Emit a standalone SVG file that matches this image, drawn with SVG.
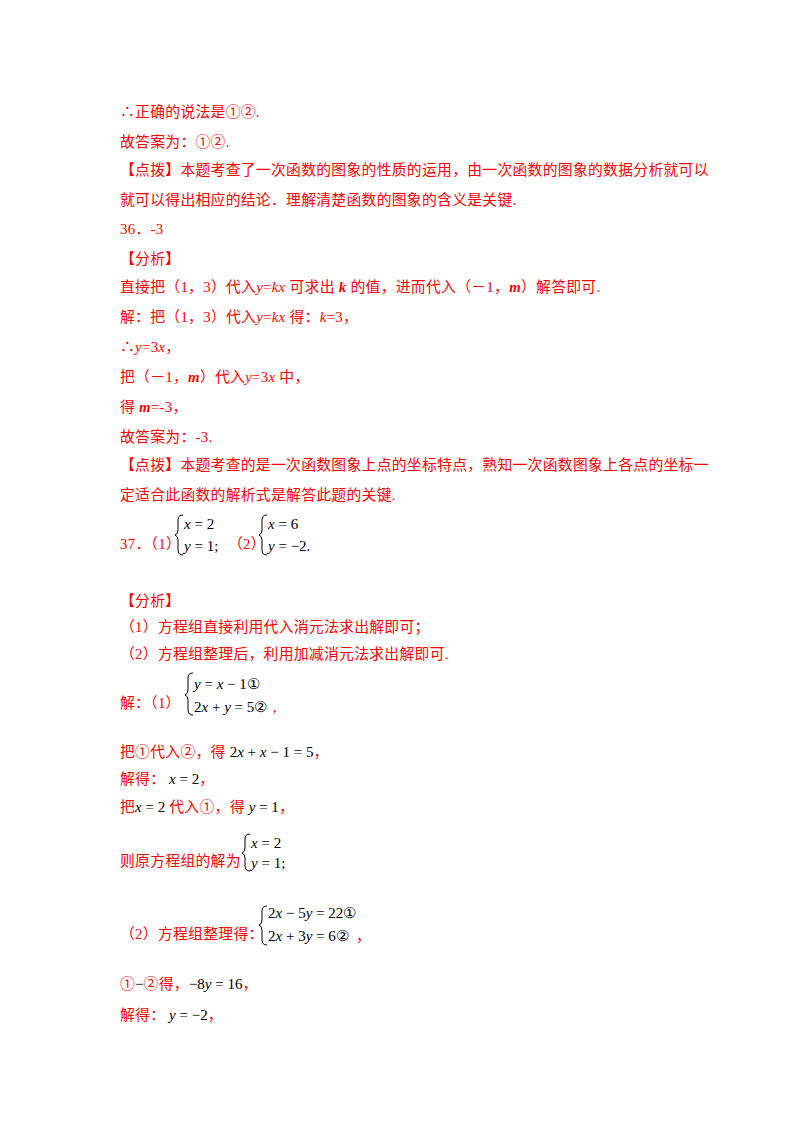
<svg xmlns="http://www.w3.org/2000/svg" width="800" height="1132" viewBox="0 0 800 1132">
<style>
.r{fill:#ff0000;font-family:"Liberation Serif","Noto Sans CJK SC",serif;font-size:14.8px;letter-spacing:0.3px}
.m{fill:#000;font-family:"Liberation Serif",serif;font-size:15px;letter-spacing:0}
.i{font-style:italic}
.b{fill:none;stroke:#000;stroke-width:1}
</style>
<rect width="800" height="1132" fill="#fff"/>
<g id="text">
<text class="r" x="120" y="117">∴正确的说法是①②.</text>
<text class="r" x="120" y="147">故答案为：①②.</text>
<text class="r" x="120" y="175">【点拨】本题考查了一次函数的图象的性质的运用，由一次函数的图象的数据分析就可以</text>
<text class="r" x="120" y="205">就可以得出相应的结论．理解清楚函数的图象的含义是关键.</text>
<text class="r" x="120" y="234">36．-3</text>
<text class="r" x="120" y="264">【分析】</text>
<text class="r" x="120" y="292">直接把（1，3）代入<tspan class="i">y</tspan>=<tspan class="i">kx</tspan> 可求出 <tspan class="i" font-weight="bold">k</tspan> 的值，进而代入（－1，<tspan class="i" font-weight="bold">m</tspan>）解答即可.</text>
<text class="r" x="120" y="322">解：把（1，3）代入<tspan class="i">y</tspan>=<tspan class="i">kx</tspan> 得：<tspan class="i">k</tspan>=3，</text>
<text class="r" x="120" y="352">∴<tspan class="i">y</tspan>=3<tspan class="i">x</tspan>，</text>
<text class="r" x="120" y="382">把（－1，<tspan class="i" font-weight="bold">m</tspan>）代入<tspan class="i">y</tspan>=3<tspan class="i">x</tspan> 中，</text>
<text class="r" x="120" y="412">得 <tspan class="i" font-weight="bold">m</tspan>=-3，</text>
<text class="r" x="120" y="442">故答案为：-3.</text>
<text class="r" x="120" y="470">【点拨】本题考查的是一次函数图象上点的坐标特点，熟知一次函数图象上各点的坐标一</text>
<text class="r" x="120" y="500">定适合此函数的解析式是解答此题的关键.</text>
<text class="r" x="120" y="549">37．（1）</text>
<text class="m" x="184" y="529"><tspan class="i">x</tspan> = 2</text>
<text class="m" x="184" y="551"><tspan class="i">y</tspan> = 1;</text>
<text class="r" x="228" y="549">（2）</text>
<text class="m" x="268" y="529"><tspan class="i">x</tspan> = 6</text>
<text class="m" x="268" y="551"><tspan class="i">y</tspan> = −2.</text>
<text class="r" x="120" y="606">【分析】</text>
<text class="r" x="120" y="632">（1）方程组直接利用代入消元法求出解即可；</text>
<text class="r" x="120" y="659">（2）方程组整理后，利用加减消元法求出解即可.</text>
<text class="r" x="120" y="708">解：（1）</text>
<text class="m" x="194" y="689"><tspan class="i">y</tspan> = <tspan class="i">x</tspan> − 1①</text>
<text class="m" x="194" y="712">2<tspan class="i">x</tspan> + <tspan class="i">y</tspan> = 5②<tspan fill="#f00">，</tspan></text>
<text class="r" x="120" y="757">把①代入②，得 <tspan class="m">2<tspan class="i">x</tspan> + <tspan class="i">x</tspan> − 1 = 5</tspan>，</text>
<text class="r" x="120" y="784">解得：<tspan class="m"> <tspan class="i">x</tspan> = 2</tspan>，</text>
<text class="r" x="120" y="812">把<tspan class="m"><tspan class="i">x</tspan> = 2</tspan> 代入①，得 <tspan class="m"><tspan class="i">y</tspan> = 1</tspan>，</text>
<text class="r" x="120" y="866">则原方程组的解为</text>
<text class="m" x="251" y="848"><tspan class="i">x</tspan> = 2</text>
<text class="m" x="251" y="868"><tspan class="i">y</tspan> = 1;</text>
<text class="r" x="120" y="939">（2）方程组整理得：</text>
<text class="m" x="268" y="918">2<tspan class="i">x</tspan> − 5<tspan class="i">y</tspan> = 22①</text>
<text class="m" x="268" y="941">2<tspan class="i">x</tspan> + 3<tspan class="i">y</tspan> = 6②</text>
<text class="r" x="356" y="941">，</text>
<text class="r" x="120" y="989">①<tspan class="m">−</tspan>②得，<tspan class="m">−8<tspan class="i">y</tspan> = 16</tspan>，</text>
<text class="r" x="120" y="1020">解得：<tspan class="m"> <tspan class="i">y</tspan> = −2</tspan>，</text>
</g>
<g id="braces" class="b">
<path d="M183 515 Q178 515 178 520 L178 530 Q178 534 175 535 Q178 536 178 540 L178 550 Q178 555 183 555"/>
<path d="M267 515 Q262 515 262 520 L262 530 Q262 534 259 535 Q262 536 262 540 L262 550 Q262 555 267 555"/>
<path d="M193 673 Q188 673 188 678 L188 690 Q188 694 185 695 Q188 696 188 700 L188 710 Q188 715 193 715"/>
<path d="M250 834 Q245 834 245 839 L245 848 Q245 852 242 853 Q245 854 245 858 L245 866 Q245 871 250 871"/>
<path d="M267 906 Q262 906 262 911 L262 920 Q262 924 259 925 Q262 926 262 930 L262 940 Q262 945 267 945"/>
</g>
</svg>
